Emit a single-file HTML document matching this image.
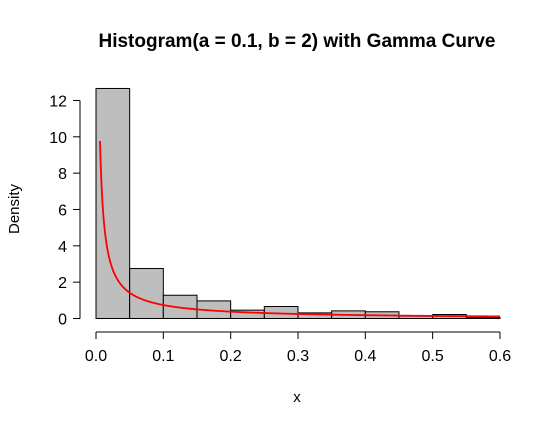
<!DOCTYPE html>
<html><head><meta charset="utf-8"><style>
body{margin:0;background:#fff}
svg text{font-family:"Liberation Sans",sans-serif;fill:#000}
</style></head><body>
<svg id="c" width="557" height="426">
<text x="297" y="47" font-size="19" font-weight="bold" text-anchor="middle">Histogram(a = 0.1, b = 2) with Gamma Curve</text>
<text x="297" y="402" font-size="15" text-anchor="middle">x</text>
<text transform="translate(19,209) rotate(-90)" font-size="15" text-anchor="middle">Density</text>
<g id="bars"></g><g id="axes"></g>
</svg>
<script>
const binEdges=[0,0.05,0.1,0.15,0.2,0.25,0.3,0.35,0.4,0.45,0.5,0.55,0.6];
const densities=[12.66,2.75,1.28,0.97,0.46,0.66,0.31,0.42,0.37,0.13,0.22,0.06];
const xTicks=[0,0.1,0.2,0.3,0.4,0.5,0.6];
const xTickLabels=["0.0","0.1","0.2","0.3","0.4","0.5","0.6"];
const yTicks=[0,2,4,6,8,10,12];
const gammaShape=[0.1];
const gammaRate=[0.5];
const curveRange=[0.006,0.6];
const NS="http://www.w3.org/2000/svg";
const X=v=>96+v*673.3, Y=v=>318.5-v*18.17;
function mk(t,a,p){const e=document.createElementNS(NS,t);for(const k in a)e.setAttribute(k,a[k]);p.appendChild(e);return e;}
const bars=document.getElementById('bars'),axes=document.getElementById('axes');
densities.forEach((d,i)=>{
 const r=mk('rect',{x:X(binEdges[i]),y:Y(d),width:X(binEdges[i+1])-X(binEdges[i]),height:Y(0)-Y(d),fill:'#bebebe',stroke:'#000','stroke-width':1},bars);
 
 
});
function lgamma(z){const g=[76.18009172947146,-86.50532032941677,24.01409824083091,-1.231739572450155,0.1208650973866179e-2,-0.5395239384953e-5];let x=z,y=z,t=x+5.5;t-=(x+0.5)*Math.log(t);let s=1.000000000190015;for(const c of g)s+=c/++y;return -t+Math.log(2.5066282746310005*s/x);}
const a=gammaShape[0],b=gammaRate[0];
const dens=x=>Math.exp(a*Math.log(b)+(a-1)*Math.log(x)-b*x-lgamma(a));
let pts=[];
for(let i=0;i<=300;i++){const x=curveRange[0]+(curveRange[1]-curveRange[0])*Math.pow(i/300,2);pts.push(X(x).toFixed(2)+','+Y(dens(x)).toFixed(2));}
const pl=mk('polyline',{points:pts.join(' '),fill:'none',stroke:'#ff0000','stroke-width':1.8},bars);


mk('line',{x1:X(xTicks[0]),x2:X(xTicks[xTicks.length-1]),y1:332,y2:332,stroke:'#000'},axes);
xTicks.forEach((t,i)=>{
 mk('line',{x1:X(t),x2:X(t),y1:332,y2:339,stroke:'#000'},axes);
 const tx=mk('text',{x:X(t),y:361,'font-size':16,'text-anchor':'middle'},axes);tx.textContent=xTickLabels[i];
 
 
});
mk('line',{x1:80,x2:80,y1:Y(yTicks[0]),y2:Y(yTicks[yTicks.length-1]),stroke:'#000'},axes);
yTicks.forEach(t=>{
 mk('line',{x1:73,x2:80,y1:Y(t),y2:Y(t),stroke:'#000'},axes);
 const tx=mk('text',{x:67,y:Y(t)+6,'font-size':16,'text-anchor':'end'},axes);tx.textContent=t;
 
 
});
</script>
</body></html>
